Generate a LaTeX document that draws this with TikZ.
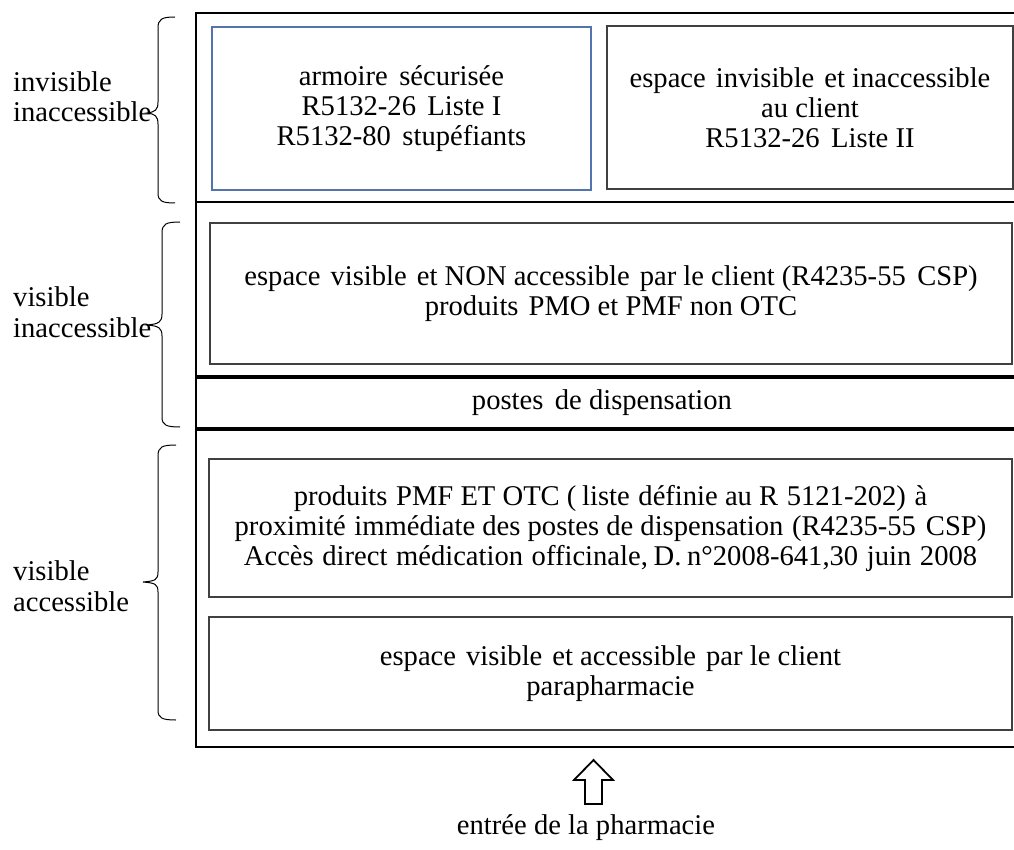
\documentclass[tikz,border=0pt]{standalone}
\usepackage{fontspec}
\setmainfont{Liberation Serif}
\definecolor{boxblue}{RGB}{84,116,176}
\begin{document}
\begin{tikzpicture}[x=1pt,y=-1pt,
  txt/.style={font=\fontsize{28.6}{30}\selectfont, align=center, inner sep=0pt},
  lbl/.style={font=\fontsize{28.6}{30}\selectfont, inner sep=0pt, anchor=base west},
  innerbox/.style={draw=black!75, line width=1.2pt, txt},
  bluebox/.style={draw=boxblue, line width=1.1pt, txt},
  frame/.style={line width=2.8pt, draw=black},
  heavy/.style={line width=3.6pt, draw=black},
  bracestyle/.style={line width=1pt, draw=black},
  entry/.style={draw=black, fill=white, line width=1.8pt, line join=miter}
]
\useasboundingbox (0,0) rectangle (1014,850);
\fill[white] (0,0) rectangle (1014,850);

% outer frame and sections (right side lies beyond the picture)
\draw[frame] (1020,13) -- (196,13) -- (196,747) -- (1020,747);
\draw[frame] (196,202) -- (1020,202);
\draw[heavy] (196,377) -- (1020,377);
\draw[heavy] (196,429) -- (1020,429);

% boxes
\node[bluebox, minimum width=379pt, minimum height=163pt] (armoire) at (401.5,108.5)
  {armoire\hspace{0.4em}sécurisée\\R5132-26\hspace{0.4em}Liste I\\R5132-80\hspace{0.4em}stupéfiants};
\node[innerbox, minimum width=406pt, minimum height=163pt] (invis) at (810,107.5)
  {espace\hspace{0.35em}invisible\hspace{0.35em}et inaccessible\\au client\\R5132-26\hspace{0.4em}Liste II};
\node[innerbox, minimum width=802pt, minimum height=141pt] (nonacc) at (611,293.5)
  {espace\hspace{0.35em}visible\hspace{0.35em}et NON accessible\hspace{0.35em}par le client (R4235-55\hspace{0.4em}CSP)\\produits\hspace{0.35em}PMO et PMF non OTC};
\node[txt] (postes) at (602,403) {postes\hspace{0.4em}de dispensation};
\node[innerbox, minimum width=803pt, minimum height=138pt] (pmf) at (610.5,528)
  {produits\hspace{0.3em}PMF ET OTC (\hspace{0.2em}liste\hspace{0.3em}définie au R\hspace{0.3em}5121-202)\hspace{0.3em}à\\proximité\hspace{0.3em}immédiate des postes de dispensation\hspace{0.3em}(R4235-55\hspace{0.35em}CSP)\\Accès\hspace{0.3em}direct\hspace{0.3em}médication\hspace{0.3em}officinale,\hspace{0.2em}D.\hspace{0.2em}n°2008-641,30\hspace{0.3em}juin\hspace{0.3em}2008};
\node[innerbox, minimum width=803pt, minimum height=113pt] (paraph) at (610.5,673.5)
  {espace\hspace{0.35em}visible\hspace{0.35em}et accessible\hspace{0.35em}par le client\\parapharmacie};

% left labels
\node[lbl] (l1a) at (13,92) {invisible};
\node[lbl] (l1b) at (13,122) {inaccessible};
\node[lbl] (l2a) at (13,306) {visible};
\node[lbl] (l2b) at (13,337) {inaccessible};
\node[lbl] (l3a) at (13,580) {visible};
\node[lbl] (l3b) at (13,611) {accessible};

% braces
\draw[bracestyle] (175,17) .. controls (162,17) and (158,19) .. (158,28)
  -- (158,102) .. controls (158,110) and (155,112) .. (147,113)
  .. controls (155,114) and (158,116) .. (158,124)
  -- (158,193) .. controls (158,201) and (162,203) .. (175,203);
\draw[bracestyle] (180,222) .. controls (166,222) and (162,224) .. (162,233)
  -- (162,314) .. controls (162,322) and (159,324) .. (147,325)
  .. controls (159,326) and (162,328) .. (162,336)
  -- (162,417) .. controls (162,425) and (166,427) .. (180,427);
\draw[bracestyle] (176,445) .. controls (162,445) and (158,447) .. (158,456)
  -- (158,572) .. controls (158,580) and (155,581) .. (143,582)
  .. controls (155,583) and (158,584) .. (158,592)
  -- (158,710) .. controls (158,718) and (162,720) .. (176,720);

% entrance arrow
\draw[entry] (593.5,760) -- (613,780) -- (602,780) -- (602,804) -- (585,804) -- (585,780) -- (574,780) -- cycle;
\node[txt] (entree) at (586,828) {entrée de la pharmacie};
\end{tikzpicture}
\end{document}
